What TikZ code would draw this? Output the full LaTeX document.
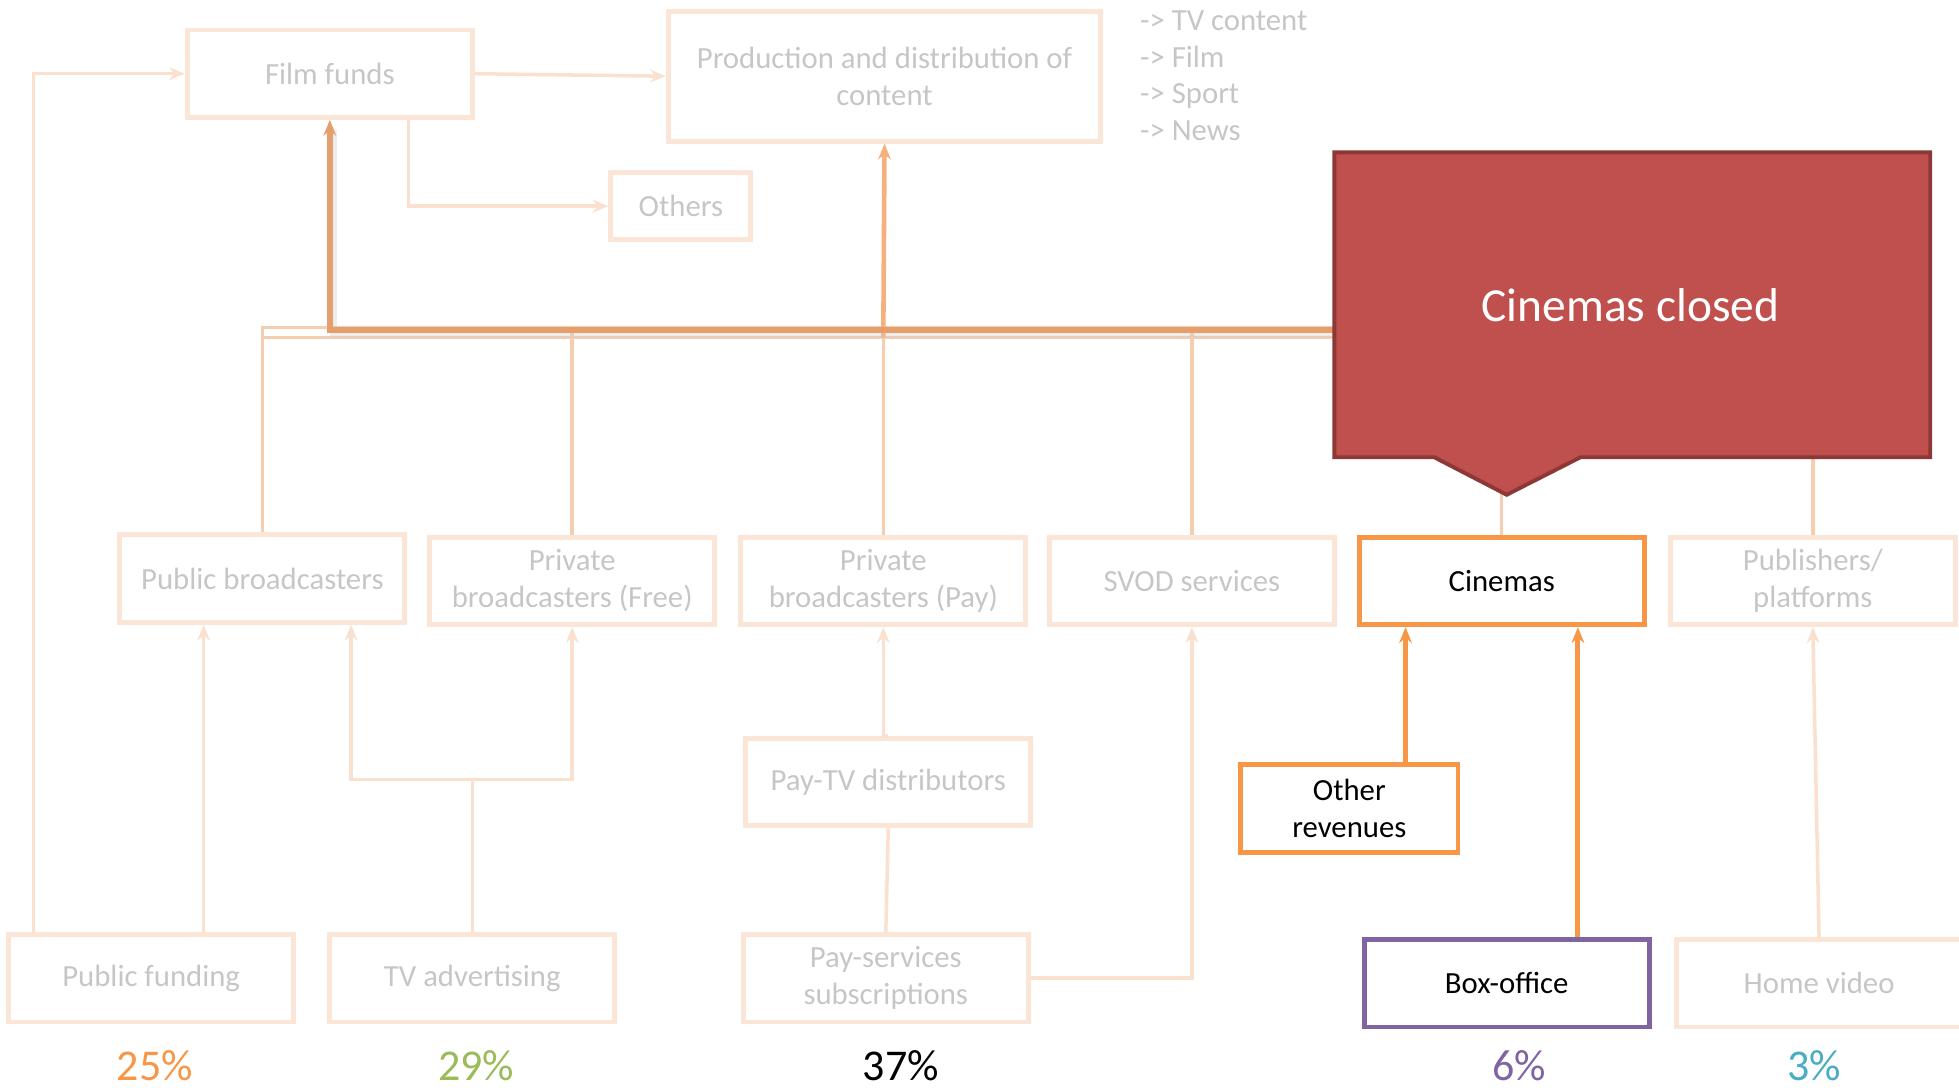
\documentclass[tikz,border=0pt]{standalone}
\usepackage{fontspec}
\setmainfont{Carlito}
\usetikzlibrary{arrows.meta,calc}

\definecolor{boxln}{HTML}{FBE5D6}
\definecolor{faintln}{HTML}{FAE0CE}
\definecolor{busln}{HTML}{F5CDB0}
\definecolor{darkbus}{HTML}{E59F6C}
\definecolor{prodln}{HTML}{F6B07E}
\definecolor{paletxt}{HTML}{C6C6C6}
\definecolor{accent}{HTML}{F79646}
\definecolor{violet}{HTML}{8064A2}
\definecolor{leaf}{HTML}{9BBB59}
\definecolor{aqua}{HTML}{4BACC6}
\definecolor{alarm}{HTML}{C0504D}
\definecolor{alarmdark}{HTML}{8C3836}

\def\px{0.01249cm}

\tikzset{
  basebox/.style={draw=boxln, line width=1.4pt, minimum width=228*\px,
    minimum height=70*\px, inner sep=1pt, align=center, text=paletxt,
    font=\fontsize{8.75}{10.5}\selectfont},
  hotbox/.style={basebox, draw=accent, text=black},
  cashbox/.style={basebox, draw=violet, text=black},
  tip/.style={-{Stealth[length=4.5pt,width=3.6pt]}},
  faint/.style={draw=faintln, line width=1pt},
  busline/.style={draw=busln, line width=1pt},
  hotline/.style={draw=accent, line width=1.4pt},
  share/.style={font=\fontsize{12.5}{15}\selectfont, inner sep=0pt},
}

\begin{document}
\begin{tikzpicture}[x=0.01249cm, y=-0.01249cm]
\useasboundingbox (0,0) rectangle (1568,872);

% ---- top level: funds and production ----
\node[basebox] (ff) at (264,59) {Film funds};
\node[basebox, minimum width=346*\px, minimum height=104*\px] (prod) at (708,61)
  {Production and distribution of\\content};
\node[basebox, minimum width=112*\px, minimum height=54*\px] (others) at (545,165) {Others};
\node[anchor=north west, align=left, text=paletxt, inner sep=0pt,
  font=\fontsize{8.75}{10.45}\selectfont] (genres) at (912,8)
  {-> TV content\\-> Film\\-> Sport\\-> News};

% ---- middle row: channels ----
\node[basebox] (pb)   at (210,463) {Public broadcasters};
\node[basebox] (pf)   at (458,465) {Private\\broadcasters (Free)};
\node[basebox] (pp)   at (707,465) {Private\\broadcasters (Pay)};
\node[basebox] (svod) at (954,465) {SVOD services};
\node[hotbox]  (cin)  at (1202,465) {Cinemas};
\node[basebox] (pub)  at (1451,465) {Publishers/\\platforms};

\node[basebox] (ptv)  at (711,626) {Pay-TV distributors};
\node[hotbox, minimum width=174*\px] (orev) at (1080,647) {Other\\revenues};

% ---- bottom row: revenue sources ----
\node[basebox] (pfund) at (121,783) {Public funding};
\node[basebox] (tvad)  at (378,783) {TV advertising};
\node[basebox] (pays)  at (709,783) {Pay-services\\subscriptions};
\node[cashbox] (box)   at (1206,787) {Box-office};
\node[basebox] (hv)    at (1456,787) {Home video};

% ---- shares ----
\node[share, text=accent] (s1) at (124,853) {25\%};
\node[share, text=leaf]   (s2) at (381,853) {29\%};
\node[share, text=black]  (s3) at (721,853) {37\%};
\node[share, text=violet] (s4) at (1216,853) {6\%};
\node[share, text=aqua]   (s5) at (1452,853) {3\%};

% ---- junction points ----
\coordinate (tvj) at (378,624);
\coordinate (busL) at (210,270);
\coordinate (busR) at (1068,270);
\coordinate (busT) at (1068,262);
\coordinate (darkR) at (1068,264);

% ---- lower connectors ----
\draw[faint, tip] ([xshift=-94*\px]pfund.north) |- (ff.west);
\draw[faint, tip] (ff.east) -- (prod.west);
\draw[faint, tip] ([xshift=63*\px]ff.south) |- (others.west);

\coordinate (pfa) at ([xshift=42*\px]pfund.north);
\draw[faint, tip] (pfa) -- (pfa |- pb.south);
\draw[faint] (tvad.north) -- (tvj);
\draw[faint, tip] (tvj) -| ([xshift=71*\px]pb.south);
\draw[faint, tip] (tvj) -| (pf.south);
\draw[faint] (pays.north) -- (ptv.south);
\draw[faint, tip] (ptv.north) -- (ptv.north -| pp.south) -- (pp.south);
\draw[faint, tip] (pays.east) -| (svod.south);
\draw[faint, tip] (hv.north) -- (pub.south);

\coordinate (ora) at ([xshift=45*\px]orev.north);
\draw[hotline, tip] (ora) -- (ora |- cin.south);
\coordinate (bxa) at ([xshift=57*\px]box.north);
\draw[hotline, tip] (bxa) -- (bxa |- cin.south);

% ---- upper bus ----
\draw[busline] (pb.north) -- (pb.north |- busT) -- (busT);
\draw[busline] (busL) -- (busR);
\draw[busline] (pf.north) -- (pf.north |- busT);
\draw[busline] (pp.north) -- (pp.north |- busR);
\draw[busline] (svod.north) -- (svod.north |- busT);
\draw[busline] (cin.north) -- ++(0,-40);
\draw[busline] (pub.north) -- ++(0,-70);

\draw[prodln, line width=1.3pt, tip] (pp.north |- busR) -- (prod.south);
\draw[black!20, line width=2pt, opacity=0.35] (1068,268) -| (267,104);
\draw[darkbus, line width=1.6pt, tip] (darkR) -| (ff.south);

% ---- callout ----
\draw[fill=alarm, draw=alarmdark, line width=1.1pt, line join=miter]
  (1068,122) -- (1545,122) -- (1545,366) -- (1265,366) -- (1206,396)
  -- (1148,366) -- (1068,366) -- cycle;
\node[text=white, font=\fontsize{13.5}{16}\selectfont] (closed) at (1305,244) {Cinemas closed};

\end{tikzpicture}
\end{document}
